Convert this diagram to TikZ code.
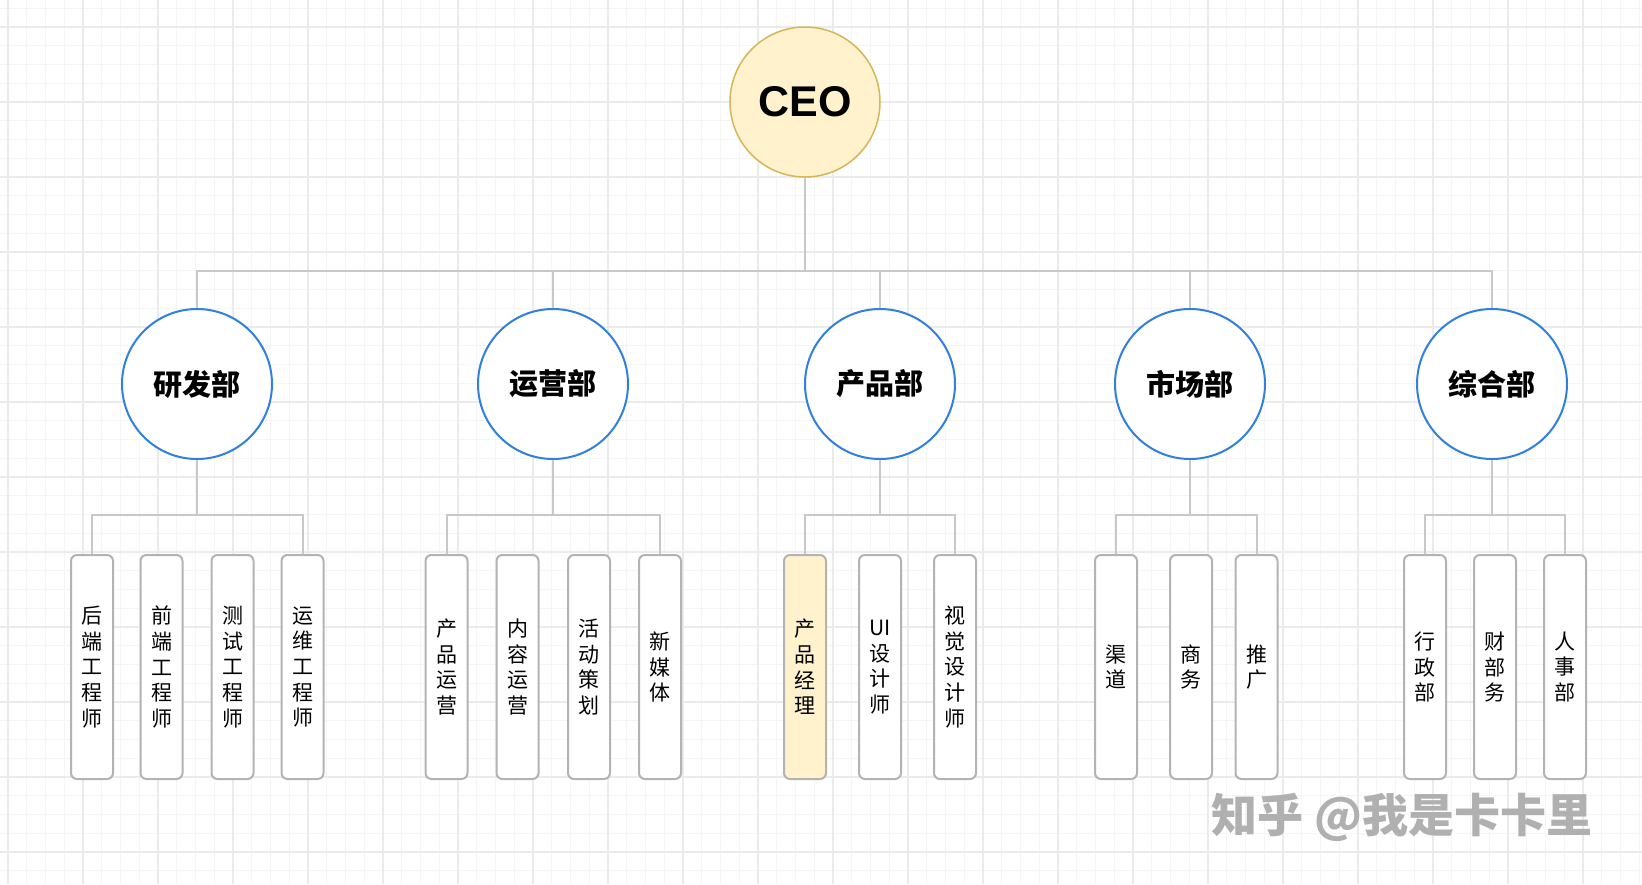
\documentclass[tikz,border=0pt]{standalone}
\usepackage{fontspec}
\setmainfont{Noto Sans CJK SC}
\newfontfamily\latinfont{Liberation Sans}
\definecolor{gridmajor}{HTML}{EBEBEB}
\definecolor{gridminor}{HTML}{F5F5F5}
\definecolor{linkgray}{HTML}{C8C8C8}
\definecolor{boxgray}{HTML}{B3B3B3}
\definecolor{deptblue}{HTML}{2F80E0}
\definecolor{ceofill}{HTML}{FFF2CC}
\definecolor{ceodraw}{HTML}{D6B656}
\definecolor{markgray}{HTML}{B0B0B0}
\tikzset{boss/.style = {circle, draw = ceodraw, fill = ceofill, line width = 1.5pt,
                        minimum size = 150pt, inner sep = 0,
                        font = \latinfont\bfseries\fontsize{43}{43}\selectfont}}
\tikzset{dept/.style = {circle, draw = deptblue, fill = white, line width = 2pt,
                        minimum size = 150pt, inner sep = 0,
                        font = \bfseries\fontsize{29}{29}\selectfont}}
\tikzset{job/.style = {draw = boxgray, fill = white, rounded corners = 6pt, line width = 2pt,
                       minimum width = 42pt, minimum height = 224pt, inner sep = 0,
                       align = center, font = \fontsize{21}{25.7}\selectfont}}
\tikzset{link/.style = {draw = linkgray, line width = 2pt}}
\tikzset{wmark/.style = {text = markgray, font = \bfseries\fontsize{46}{46}\selectfont}}

\begin{document}
\begin{tikzpicture}[x = 1pt, y = -1pt]
      \useasboundingbox (0, 0) rectangle (1642, 884);
      \fill[white] (0, 0) rectangle (1642, 884);

      % grid
      \foreach \k in {-1,...,87} \draw[gridminor, line width = 0.8pt] (8 + 18.75*\k, 0) -- (8 + 18.75*\k, 884);
      \foreach \k in {-2,...,45} \draw[gridminor, line width = 0.8pt] (0, 27 + 18.75*\k) -- (1642, 27 + 18.75*\k);
      \foreach \k in {0,...,21} \draw[gridmajor, line width = 1.2pt] (8 + 75*\k, 0) -- (8 + 75*\k, 884);
      \foreach \k in {0,...,11} \draw[gridmajor, line width = 1.2pt] (0, 27 + 75*\k) -- (1642, 27 + 75*\k);

      \node [boss] (CEO) at (805, 102) {CEO};

      \node [dept] (RD) at (197, 384) {研发部};
      \node [dept] (OP) at (553, 384) {运营部};
      \node [dept] (PD) at (880, 384) {产品部};
      \node [dept] (MK) at (1190, 384) {市场部};
      \node [dept] (GA) at (1492, 384) {综合部};

      \node [job] (RD1) at (92, 667) {后\\端\\工\\程\\师};
      \node [job] (RD2) at (161.5, 667) {前\\端\\工\\程\\师};
      \node [job] (RD3) at (232.5, 667) {测\\试\\工\\程\\师};
      \node [job] (RD4) at (302.5, 667) {运\\维\\工\\程\\师};

      \node [job] (OP1) at (446.5, 667) {产\\品\\运\\营};
      \node [job] (OP2) at (517.5, 667) {内\\容\\运\\营};
      \node [job] (OP3) at (589, 667) {活\\动\\策\\划};
      \node [job] (OP4) at (660, 667) {新\\媒\\体};

      \node [job, fill = ceofill] (PD1) at (805, 667) {产\\品\\经\\理};
      \node [job] (PD2) at (880, 667) {UI\\设\\计\\师};
      \node [job] (PD3) at (955, 667) {视\\觉\\设\\计\\师};

      \node [job] (MK1) at (1116, 667) {渠\\道};
      \node [job] (MK2) at (1191, 667) {商\\务};
      \node [job] (MK3) at (1256.5, 667) {推\\广};

      \node [job] (GA1) at (1425, 667) {行\\政\\部};
      \node [job] (GA2) at (1495, 667) {财\\部\\务};
      \node [job] (GA3) at (1565, 667) {人\\事\\部};

      \coordinate (B) at (805, 271);
      \coordinate (RDB) at (197, 515);
      \coordinate (OPB) at (553, 515);
      \coordinate (PDB) at (880, 515);
      \coordinate (MKB) at (1190, 515);
      \coordinate (GAB) at (1492, 515);

      \draw [link] (CEO) -- (B);
      \foreach \d in {RD, OP, PD, MK, GA} \draw [link] (B) -| (\d);

      % only the outer boxes of each group hang on the bar
      \draw [link] (RD) -- (RDB);
      \foreach \j in {RD1, RD4} \draw [link] (RDB) -| (\j);
      \draw [link] (OP) -- (OPB);
      \foreach \j in {OP1, OP4} \draw [link] (OPB) -| (\j);
      \draw [link] (PD) -- (PDB);
      \foreach \j in {PD1, PD3} \draw [link] (PDB) -| (\j);
      \draw [link] (MK) -- (MKB);
      \foreach \j in {MK1, MK3} \draw [link] (MKB) -| (\j);
      \draw [link] (GA) -- (GAB);
      \foreach \j in {GA1, GA3} \draw [link] (GAB) -| (\j);

      \node [wmark] (ZH) at (1402, 817) {知乎 @我是卡卡里};
\end{tikzpicture}
\end{document}
